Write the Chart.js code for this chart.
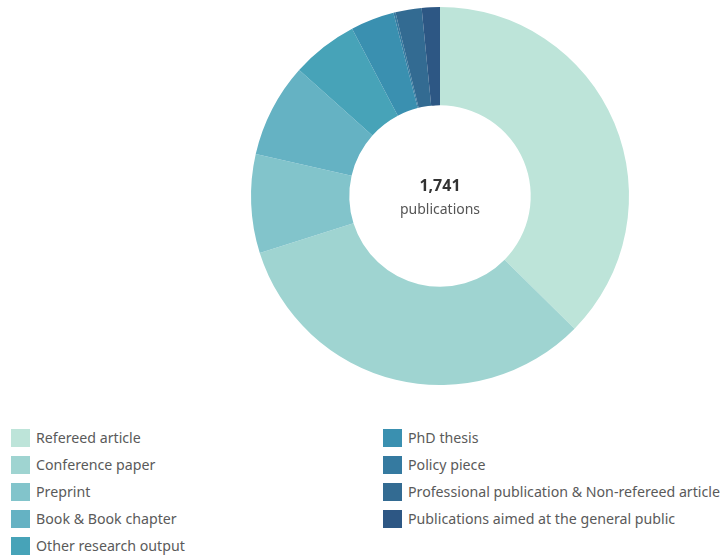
<!DOCTYPE html>
<html>
<head>
<meta charset="utf-8">
<script src="https://cdn.jsdelivr.net/npm/chart.js@4.4.1/dist/chart.umd.min.js"></script>
<style>
  html, body { margin: 0; padding: 0; background: #ffffff; }
  #wrap { position: relative; width: 720px; height: 555px; overflow: hidden; font-family: "Noto Sans", "Open Sans", sans-serif; }
  #chartBox { position: absolute; left: 0; top: 0; width: 720px; height: 420px; }
  #center { position: absolute; left: 340px; top: 175px; width: 200px; text-align: center; pointer-events: none; }
  #total { font-size: 16px; font-weight: bold; color: #333333; line-height: 20px; }
  #unit { font-size: 14px; color: #555555; line-height: 20px; margin-top: 4px; }
  .leg { position: absolute; display: flex; align-items: center; font-size: 14.2px; color: #5a5a5a; white-space: nowrap; line-height: 18px; }
  .sw { width: 19px; height: 18px; margin-right: 6px; flex: none; }
</style>
</head>
<body>
<div id="wrap">
  <div id="chartBox"><canvas id="c"></canvas></div>
  <div id="center"><div id="total"></div><div id="unit"></div></div>
  <div id="legend"></div>
</div>
<script>
// Publication types and counts
const categories = [
  "Refereed article",
  "Conference paper",
  "Preprint",
  "Book & Book chapter",
  "Other research output",
  "PhD thesis",
  "Policy piece",
  "Professional publication & Non-refereed article",
  "Publications aimed at the general public"
];
const counts = [651, 570, 147, 140, 99, 65, 3, 39, 27];
const colors = [
  "#bde4d9", "#9fd4d1", "#82c4cb", "#65b2c3", "#47a3b8",
  "#3a90b0", "#357aa0", "#336b92", "#2d5784"
];
const centerUnit = "publications";

const total = counts.reduce((a, b) => a + b, 0);
document.getElementById("total").textContent = total.toLocaleString("en-US");
document.getElementById("unit").textContent = centerUnit;

new Chart(document.getElementById("c"), {
  type: "doughnut",
  data: {
    labels: categories,
    datasets: [{
      data: counts,
      backgroundColor: colors,
      borderWidth: 0,
      hoverOffset: 0
    }]
  },
  options: {
    responsive: true,
    maintainAspectRatio: false,
    animation: false,
    cutout: "48%",
    layout: { padding: { left: 251, right: 91, top: 7, bottom: 35 } },
    plugins: { legend: { display: false }, tooltip: { enabled: false } }
  }
});

// Two-column legend, filled column by column
const legend = document.getElementById("legend");
categories.forEach((name, i) => {
  const col = i < 5 ? 0 : 1;
  const row = i < 5 ? i : i - 5;
  const item = document.createElement("div");
  item.className = "leg";
  item.style.left = (col === 0 ? 11 : 383) + "px";
  item.style.top = (429 + row * 27) + "px";
  const sw = document.createElement("div");
  sw.className = "sw";
  sw.style.background = colors[i];
  const tx = document.createElement("span");
  tx.textContent = name;
  item.appendChild(sw);
  item.appendChild(tx);
  legend.appendChild(item);
});
</script>
</body>
</html>
